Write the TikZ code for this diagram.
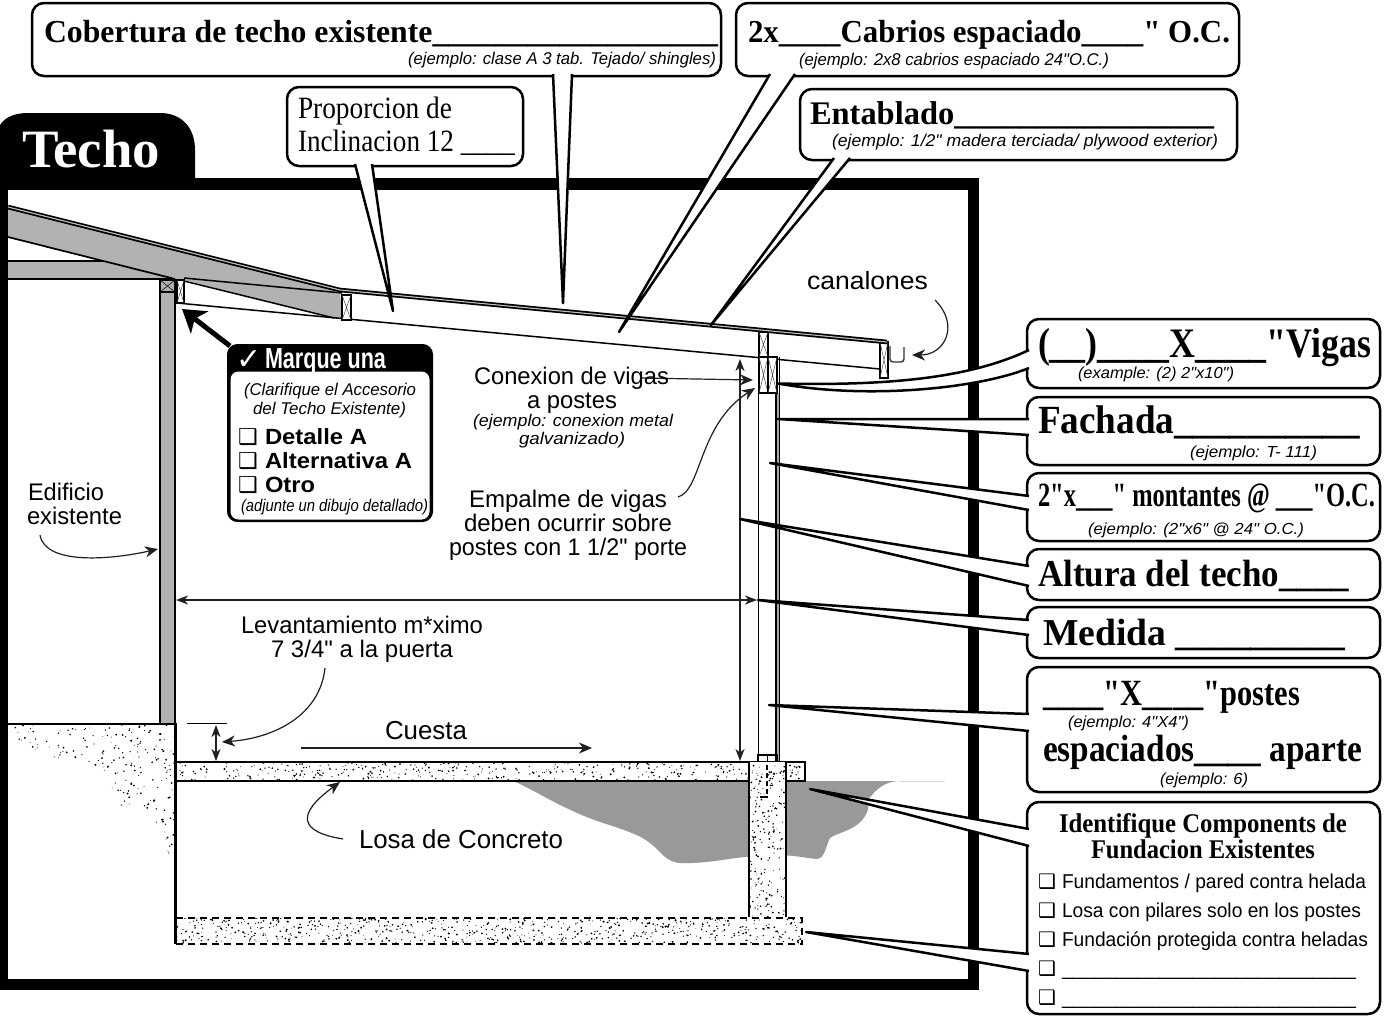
\documentclass[tikz,border=0pt]{standalone}
\usepackage{fontspec}
\usepackage{graphicx}
\usetikzlibrary{arrows.meta,calc}
\setmainfont[Ligatures=TeXOff]{Liberation Serif}
\setsansfont[Ligatures=TeXOff]{Liberation Sans}
\newfontfamily\djv{DejaVu Sans}
\definecolor{gr}{HTML}{B2B2B2}
\definecolor{blob}{HTML}{999999}
\definecolor{ink}{HTML}{231F20}
\newsavebox\fwb
\newdimen\fwd
\makeatletter
\newcommand\fw[2]{\sbox\fwb{#2}\fwd=\wd\fwb\edef\fwq{\strip@pt\fwd}\pgfmathsetmacro\fwr{#1/\fwq}\scalebox{\fwr}[1]{\usebox\fwb}}
\makeatother
\newcommand\fSB[1]{\fontsize{#1}{#1}\selectfont\rmfamily\bfseries}
\newcommand\fS[1]{\fontsize{#1}{#1}\selectfont\rmfamily}
\newcommand\fA[1]{\fontsize{#1}{#1}\selectfont\sffamily}
\newcommand\fAI[1]{\fontsize{#1}{#1}\selectfont\sffamily\itshape}
\newcommand\fAB[1]{\fontsize{#1}{#1}\selectfont\sffamily\bfseries}
\newcommand\Tx[6]{\node[tx,font=#2] (#1) at (#3,#4) {\fw{#5}{#6}};}
\newcommand\Bx[5]{\node[cbox,minimum width={(#4-#2)*1pt},minimum height={(#5-#3)*1pt}] (#1) at ({(#2+#4)/2},{(#3+#5)/2}) {};}
% wedge callout: name, tip, base a, base b
\newcommand\Wd[4]{\coordinate (#1t) at (#2);\coordinate (#1a) at (#3);\coordinate (#1b) at (#4);
 \fill[white] (#1t)--(#1a)--(#1b)--cycle;
 \draw[wedge] (#1a)--(#1t)--(#1b);}
\newcommand\Xb[4]{\draw[fill=white,line width=1.9pt] (#1,#2) rectangle (#3,#4);
 \draw[line width=.5pt,black!70] (#1,#2)--(#3,#4) (#1,#4)--(#3,#2);}
\newcommand\Stip[5]{\fill[black] \foreach \i in {1,...,#5} { ({#1+#3*rnd},{#2+#4*rnd}) circle ({0.4+0.65*rnd}) };}
\tikzset{
 tx/.style={inner sep=0pt,outer sep=0pt,anchor=base west},
 cbox/.style={draw=black,fill=white,line width=2.5pt,rounded corners=12pt,inner sep=0pt,outer sep=0pt},
 wedge/.style={line width=2.5pt,black,line join=round},
 thinar/.style={line width=1.2pt,ink,-{Stealth[length=13pt,width=11pt,inset=4pt]}},
 dblar/.style={line width=1.2pt,ink,{Stealth[length=12pt,width=9pt,inset=3.5pt]}-{Stealth[length=12pt,width=9pt,inset=3.5pt]}},
}
\begin{document}
\begin{tikzpicture}[x=1pt,y=-1pt]
\useasboundingbox (0,0) rectangle (1387,1015);
\fill[white] (0,0) rectangle (1387,1015);
% frame and tab
\fill[black] (0,178) rectangle (979,990);
\fill[white] (8,190) rectangle (968,979);
\fill[black] (0,180)--(0,125) .. controls (5,117) and (15,113) .. (28,113) -- (160,113) .. controls (182,113) and (195,128) .. (195,150) -- (195,180) -- cycle;
\node[tx,font=\fSB{54},white] (techo) at (22,167) {\fw{138}{Techo}};
% gray blob under the slab
\fill[blob] (513,781) .. controls (535,790) and (560,808) .. (600,822) .. controls (625,830) and (640,835) .. (650,843)
 .. controls (660,850) and (665,862) .. (680,863) .. controls (710,864) and (730,857) .. (760,856)
 .. controls (785,853) and (805,858) .. (817,859) .. controls (825,858) and (825,848) .. (830,838)
 .. controls (838,832) and (860,830) .. (867,812) .. controls (870,805) and (866,800) .. (872,795)
 .. controls (880,785) and (890,781) .. (900,781) -- cycle;
\draw[black!15,line width=.8pt] (900,781)--(945,781);
% ground stipple at the existing building
\pgfmathsetseed{17}
\begin{scope}
\clip (14,725)--(175,725)--(175,862)--(170,860)--(158,835)--(155,815)--(120,805)--(107,775)--(90,762)--(50,757)--(14,738)--cycle;
\Stip{14}{725}{161}{137}{480}
\end{scope}
% existing building
\fill[gr] (8,261) rectangle (170,279);
\draw[line width=1.6pt] (8,261)--(108,261) (8,279)--(175,279);
\fill[gr] (8,207)--(340,290)--(342,319)--(333,318)--(184,280)--(175,279)--(8,237)--cycle;
\draw[line width=1.7pt] (8,237)--(175,279);
\draw[line width=1.5pt] (184,278)--(342,293) (184,281)--(334,318);
\fill[gr] (160,293) rectangle (175,723);
\draw[line width=1.2pt] (160,293)--(160,723);
\draw[line width=2pt] (175,279)--(175,723);
\fill[gr] (160,280) rectangle (175,292);
\draw[line width=1.4pt] (160,280) rectangle (175,292);
\draw[line width=.5pt] (160,280)--(175,292) (160,292)--(175,280);
\draw[line width=2pt] (8,723.5)--(175,723.5);
\draw[line width=2.2pt] (175.5,723)--(175.5,944);
% new rafter bottom
\draw[line width=1.5pt] (177,303)--(880,369);
% blocks at the ledger
\Xb{177}{280}{184}{303}
\Xb{342}{295}{351}{320}
% post
\fill[black!35] (776,393) rectangle (780,762);
\draw[line width=1.7pt] (758.5,393)--(758.5,755) (776,393)--(776,762);
\draw[line width=1.1pt] (779.5,357)--(779.5,762);
\draw[line width=1.4pt] (758,755) rectangle (777,762);
\draw[line width=1.2pt] (767.5,755)--(767.5,762);
\Xb{759}{332}{768}{357}
\Xb{759}{357}{768}{393}
\Xb{768}{357}{777}{393}
% fascia and gutter
\Xb{880}{342}{888}{378}
\draw[line width=1.4pt,black!80,rounded corners=3pt] (890,346)--(890,362)--(904,362)--(904,347);
% roof sheathing, old and new
\draw[line width=4.6pt] (8,207)--(340,290)--(887,342);
\draw[line width=1.1pt,black!25] (8,207)--(340,290)--(887,342);
% slab, pier, footing
\begin{scope}
\clip (176,763) rectangle (804,780);
\Stip{176}{763}{628}{17}{400}
\end{scope}
\draw[line width=2pt] (175,762)--(805,762)--(805,781)--(175,781);
\fill[white] (749,762) rectangle (786,917);
\begin{scope}
\clip (750,763) rectangle (785,917);
\Stip{750}{763}{35}{154}{210}
\end{scope}
\draw[line width=2pt] (749,762)--(749,917) (786,762)--(786,917);
\begin{scope}
\clip (176,918) rectangle (802,943);
\Stip{176}{918}{626}{25}{680}
\end{scope}
\draw[line width=2pt,dash pattern=on 7pt off 5pt] (176,917.5)--(802,917.5)--(802,944)--(176,944);
\draw[line width=2pt,dash pattern=on 5pt off 3pt] (767,765)--(767,795);
\draw[line width=1.4pt] (760,797)--(768,797);
% dimensions and leaders
\coordinate (levA) at (325,668);\coordinate (levB) at (222,742);
\draw[line width=1pt] (187,723)--(227,723);
\draw[dblar] (216,725)--(216,761);
\draw[thinar] (levA) .. controls (320,715) and (275,738) .. (levB);
\draw[thinar] (301,748)--(592,748);
\draw[dblar] (176,600)--(757,600);
\draw[dblar] (740,359)--(740,761);
\coordinate (cxA) at (640,378);\coordinate (cxB) at (753,380);
\draw[thinar] (cxA)--(cxB);
\coordinate (emA) at (678,497);\coordinate (emB) at (755,388);
\draw[thinar] (emA) .. controls (702,490) and (698,425) .. (emB);
\coordinate (eeA) at (40,535);\coordinate (eeB) at (158,549);
\draw[thinar] (eeA) .. controls (45,565) and (110,560) .. (eeB);
\coordinate (loA) at (343,839);\coordinate (loB) at (340,782);
\draw[thinar] (loA) .. controls (300,832) and (295,815) .. (loB);
\coordinate (caA) at (935,300);\coordinate (caB) at (912,355);
\draw[thinar] (caA) .. controls (960,325) and (945,355) .. (caB);
% callout boxes
\Bx{bCob}{32}{3}{721}{76}
\Bx{bCab}{736}{3}{1239}{76}
\Bx{bEnt}{800}{89}{1237}{160}
\Bx{bPro}{287}{87}{523}{166}
\Bx{bVig}{1027}{319}{1380}{388}
\Bx{bFac}{1027}{397}{1380}{465}
\Bx{bMon}{1027}{473}{1380}{541}
\Bx{bAlt}{1027}{549}{1380}{600}
\Bx{bMed}{1027}{607}{1380}{658}
\Bx{bPos}{1027}{667}{1380}{792}
\Bx{bIde}{1027}{802}{1380}{1014}
% wedges
\Wd{wCob}{563,303}{553,74}{572,74}
\Wd{wCab}{619,332}{770,74}{795,74}
\Wd{wEnt}{711,325}{834,158}{850,158}
\Wd{wPro}{393,311}{355,164}{372,164}
\Wd{wFac}{778,419}{1029,419}{1029,435}
\Wd{wMon}{770,463}{1029,496}{1029,510}
\Wd{wAlt}{740,519}{1029,566}{1029,586}
\Wd{wMed}{758,600}{1029,620}{1029,635}
\Wd{wPos}{769,705}{1029,714}{1029,731}
\Wd{wIde}{810,789}{1029,829}{1029,846}
\Wd{wFnd}{806,932}{1029,954}{1029,971}
% curved wedge for the beams
\coordinate (wVt) at (778,383.5);\coordinate (wVa) at (1029,350);\coordinate (wVb) at (1029,368);
\fill[white] (wVt) .. controls (890,386) and (970,378) .. (wVa) -- (wVb) .. controls (980,388) and (870,400) .. (wVt) -- cycle;
\draw[wedge] (wVa) .. controls (970,378) and (890,386) .. (wVt) .. controls (870,400) and (980,388) .. (wVb);
% check box
\node[draw=black,fill=black,line width=1pt,rounded corners=10pt,minimum width=205pt,minimum height=177pt,inner sep=0pt,outer sep=0pt] (chk) at (330,433) {};
\node[fill=white,rounded corners=8pt,minimum width=199pt,minimum height=148pt,inner sep=0pt,outer sep=0pt] (chkw) at (330,445.5) {};
\coordinate (chkA) at (230,346);\coordinate (chkB) at (182,309);
\draw[line width=5pt,black,-{Stealth[length=22pt,width=28pt,inset=6pt]}] (chkA)--(chkB);
\node[tx,font=\djv\fontsize{30}{30}\selectfont,white] (chkmark) at (236,369) {✓};
\Tx{tMar}{\fAB{29}}{265}{368}{121}{\textcolor{white}{Marque una}}
\Tx{tCla}{\fAI{17}}{244}{395}{172}{(Clarifique el Accesorio}
\Tx{tDel}{\fAI{17}}{253}{414}{153}{del Techo Existente)}
\node[tx,font=\djv\fontsize{22}{22}\selectfont] (c1) at (238,444) {❑};
\node[tx,font=\djv\fontsize{22}{22}\selectfont] (c2) at (238,468) {❑};
\node[tx,font=\djv\fontsize{22}{22}\selectfont] (c3) at (238,492) {❑};
\Tx{tDet}{\fAB{22}}{265}{444}{102}{Detalle A}
\Tx{tAlA}{\fAB{22}}{265}{468}{147}{Alternativa A}
\Tx{tOtr}{\fAB{22}}{265}{492}{50}{Otro}
\Tx{tAdj}{\fAI{17}}{241}{511}{187}{(adjunte un dibujo detallado)}
% callout text
\Tx{t1}{\fSB{32}}{44}{42}{674}{Cobertura de techo existente\_\_\_\_\_\_\_\_\_\_\_\_\_\_\_\_\_\_}
\Tx{t1e}{\fAI{17}}{408}{64}{308}{(ejemplo: clase A 3 tab. Tejado/ shingles)}
\Tx{t2}{\fSB{32}}{748}{42}{482}{2x\_\_\_\_Cabrios espaciado\_\_\_\_" O.C.}
\Tx{t2e}{\fAI{17}}{799}{65}{310}{(ejemplo: 2x8 cabrios espaciado 24"O.C.)}
\Tx{t3}{\fSB{33}}{810}{124}{404}{Entablado\_\_\_\_\_\_\_\_\_\_\_\_\_\_\_\_}
\Tx{t3e}{\fAI{17}}{832}{146}{386}{(ejemplo:  1/2" madera terciada/ plywood exterior)}
\Tx{t4}{\fS{31}}{298}{118}{154}{Proporcion de}
\Tx{t4b}{\fS{31}}{298}{151}{217}{Inclinacion 12 \_\_\_\_}
\Tx{t5}{\fSB{42}}{1038}{357}{333}{(\_\_)\_\_\_\_X\_\_\_\_"Vigas}
\Tx{t5e}{\fAI{16}}{1078}{378}{156}{(example: (2) 2"x10")}
\Tx{t6}{\fSB{40}}{1038}{433}{322}{Fachada\_\_\_\_\_\_\_\_\_\_}
\Tx{t6e}{\fAI{16}}{1190}{457}{127}{(ejemplo: T- 111)}
\Tx{t7}{\fSB{34}}{1038}{506}{337}{2"x\_\_\_" montantes @ \_\_\_"O.C.}
\Tx{t7e}{\fAI{16}}{1088}{534}{216}{(ejemplo: (2"x6" @ 24" O.C.)}
\Tx{t8}{\fSB{38}}{1038}{586}{311}{Altura del techo\_\_\_\_}
\Tx{t9}{\fSB{38}}{1043}{645}{302}{Medida \_\_\_\_\_\_\_\_\_}
\Tx{t10}{\fSB{37}}{1043}{705}{257}{\_\_\_\_"X\_\_\_\_"postes}
\Tx{t10e}{\fAI{16}}{1068}{727}{121}{(ejemplo: 4"X4")}
\Tx{t10b}{\fSB{38}}{1043}{761}{319}{espaciados\_\_\_\_ aparte}
\Tx{t10f}{\fAI{16}}{1160}{784}{88}{(ejemplo: 6)}
\Tx{t11}{\fSB{27}}{1059}{832}{288}{Identifique Components de}
\Tx{t11b}{\fSB{27}}{1091}{858}{224}{Fundacion Existentes}
\node[tx,font=\djv\fontsize{20}{20}\selectfont] (d1) at (1038,888) {❑};
\node[tx,font=\djv\fontsize{20}{20}\selectfont] (d2) at (1038,917) {❑};
\node[tx,font=\djv\fontsize{20}{20}\selectfont] (d3) at (1038,946) {❑};
\node[tx,font=\djv\fontsize{20}{20}\selectfont] (d4) at (1038,975) {❑};
\node[tx,font=\djv\fontsize{20}{20}\selectfont] (d5) at (1038,1004) {❑};
\Tx{i1}{\fA{20}}{1062}{888}{304}{Fundamentos / pared contra helada}
\Tx{i2}{\fA{20}}{1062}{917}{299}{Losa con pilares solo en los postes}
\Tx{i3}{\fA{20}}{1062}{946}{306}{Fundación protegida contra heladas}
\Tx{i4}{\fA{20}}{1062}{975}{294}{\_\_\_\_\_\_\_\_\_\_\_\_\_\_\_\_\_\_\_\_\_\_\_\_\_\_\_}
\Tx{i5}{\fA{20}}{1062}{1004}{294}{\_\_\_\_\_\_\_\_\_\_\_\_\_\_\_\_\_\_\_\_\_\_\_\_\_\_\_}
% drawing labels
\Tx{l1}{\fA{24}}{474}{384}{195}{Conexion de vigas}
\Tx{l2}{\fA{24}}{527}{408}{90}{a postes}
\Tx{l3}{\fAI{17}}{473}{426}{200}{(ejemplo: conexion metal}
\Tx{l4}{\fAI{17}}{519}{444}{106}{galvanizado)}
\Tx{l5}{\fA{24}}{469}{507}{198}{Empalme de vigas}
\Tx{l6}{\fA{24}}{464}{531}{208}{deben ocurrir sobre}
\Tx{l7}{\fA{24}}{449}{555}{238}{postes con 1 1/2" porte}
\Tx{l8}{\fA{24}}{241}{633}{242}{Levantamiento m*ximo}
\Tx{l9}{\fA{24}}{271}{657}{182}{7 3/4" a la puerta}
\Tx{l10}{\fA{26}}{385}{739}{82}{Cuesta}
\Tx{l11}{\fA{26}}{359}{848}{204}{Losa de Concreto}
\Tx{l12}{\fA{25}}{807}{289}{121}{canalones}
\Tx{l13}{\fA{24}}{28}{500}{76}{Edificio}
\Tx{l14}{\fA{24}}{27}{524}{95}{existente}
\end{tikzpicture}
\end{document}
